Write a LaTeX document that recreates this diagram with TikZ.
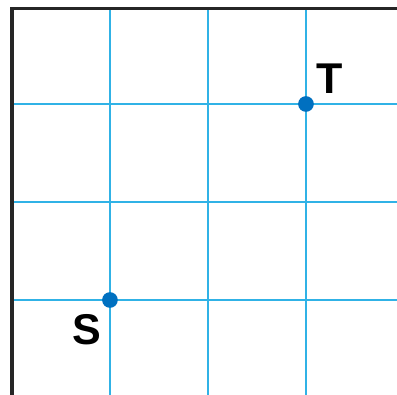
\documentclass[tikz,border=0pt]{standalone}
\usepackage{fontspec}
\setmainfont{Liberation Sans}
\definecolor{gridblue}{RGB}{48,178,230}
\definecolor{dotblue}{RGB}{0,112,192}

\begin{document}
\begin{tikzpicture}
        \useasboundingbox (-1.122,-0.969) rectangle (2.929,3.061);

        % Gitter
        \foreach \x in {0,1,2}
            \draw[gridblue, line width=0.45pt] (\x,-0.969) -- (\x,2.96);
        \foreach \y in {0,1,2}
            \draw[gridblue, line width=0.45pt] (-1,\y) -- (2.929,\y);

        % Rahmen
        \draw[black!85, line width=0.9pt] (-1,-0.969) -- (-1,2.97) -- (2.929,2.97);

        % Punkte
        \fill[dotblue] (0,0) circle (0.08);
        \fill[dotblue] (2,2) circle (0.08);

        % Beschriftungen
        \node[font=\bfseries\fontsize{12.5}{13}\selectfont] (S) at (-0.235,-0.3) {S};
        \node[font=\bfseries\fontsize{12.5}{13}\selectfont] (T) at (2.245,2.26) {T};
    \end{tikzpicture}
\end{document}
